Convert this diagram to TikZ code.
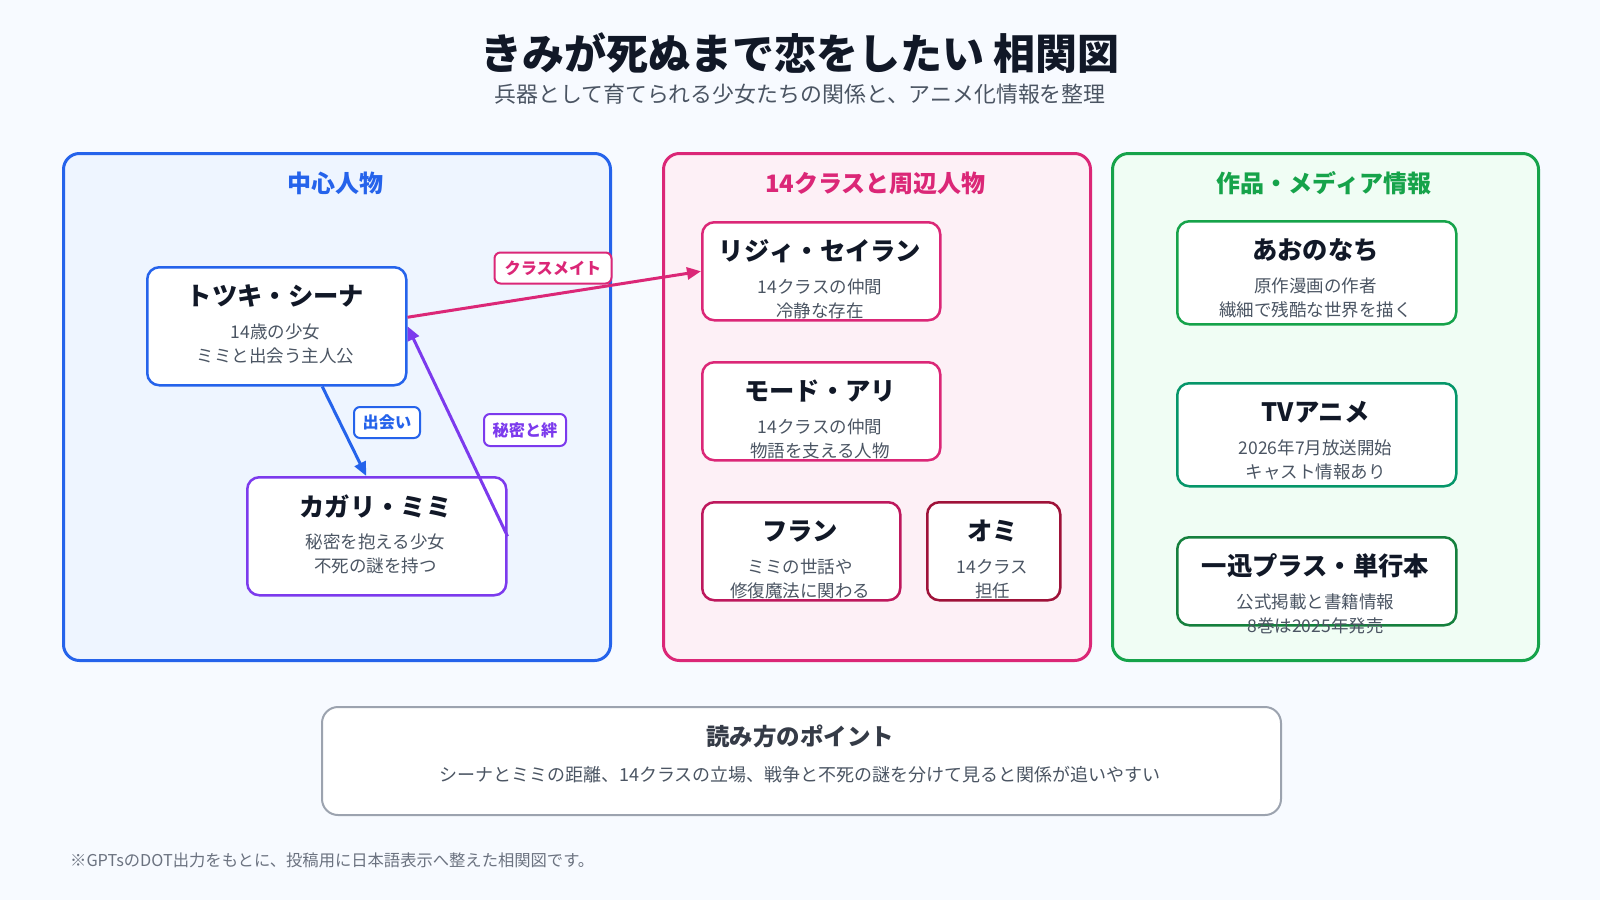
\documentclass[tikz,border=0pt]{standalone}
\usepackage{fontspec}
\setmainfont{Noto Sans CJK JP}
\usetikzlibrary{arrows.meta}
\definecolor{bgc}{HTML}{F7FAFF}
\definecolor{ink}{HTML}{111827}
\definecolor{subc}{HTML}{4B5563}
\definecolor{footc}{HTML}{6B7280}
\definecolor{cblue}{HTML}{2563EB}
\definecolor{fblue}{HTML}{EEF5FF}
\definecolor{cpink}{HTML}{DB2777}
\definecolor{fpink}{HTML}{FDF0F6}
\definecolor{cgreen}{HTML}{16A34A}
\definecolor{fgreen}{HTML}{F0FDF4}
\definecolor{cpurple}{HTML}{7C3AED}
\definecolor{cfran}{HTML}{BE185D}
\definecolor{comi}{HTML}{9F1239}
\definecolor{cteal}{HTML}{059669}
\definecolor{cdkgreen}{HTML}{15803D}
\definecolor{cgray}{HTML}{9CA3AF}
\newcommand\mycard[9]{%
  \node[card, draw=#6, minimum width=#4pt, minimum height=#5pt] (#1) at (#2,#3) {};
  \node[nm] (#1-t) at (#2+#4/2,#3+30) {#7};
  \node[subtxt] (#1-a) at (#2+#4/2,#3+66) {#8};
  \node[subtxt] (#1-b) at (#2+#4/2,#3+90) {#9};
}
\begin{document}
\begin{tikzpicture}[x=1pt,y=-1pt,
  grp/.style={draw, line width=3pt, rounded corners=16pt, inner sep=0pt, anchor=north west},
  grpt/.style={inner sep=0pt, font=\fontsize{24}{28}\selectfont\bfseries},
  card/.style={fill=white, line width=2.5pt, rounded corners=12pt, inner sep=0pt, anchor=north west},
  nm/.style={inner sep=0pt, text=ink, font=\fontsize{25.3}{30}\selectfont\bfseries},
  subtxt/.style={inner sep=0pt, text=subc, font=\fontsize{17.5}{21}\selectfont},
  tag/.style={draw, fill=white, line width=2pt, rounded corners=6pt, inner sep=0pt, font=\fontsize{16.2}{19}\selectfont\bfseries},
  arr/.style={line width=3pt, -{Triangle[length=14pt,width=12pt]}}
]
\useasboundingbox[fill=bgc] (0,0) rectangle (1600,900);

% title
\node[inner sep=0pt, text=ink, font=\fontsize{42}{48}\selectfont\bfseries] (title) at (800,53) {きみが死ぬまで恋をしたい 相関図};
\node[inner sep=0pt, text=subc, font=\fontsize{21.9}{26}\selectfont] (subtitle) at (800,94) {兵器として育てられる少女たちの関係と、アニメ化情報を整理};

% groups
\node[grp, draw=cblue, fill=fblue, minimum width=547pt, minimum height=507pt] (g1) at (62,152) {};
\node[grp, draw=cpink, fill=fpink, minimum width=427pt, minimum height=507pt] (g2) at (662,152) {};
\node[grp, draw=cgreen, fill=fgreen, minimum width=426pt, minimum height=507pt] (g3) at (1111,152) {};
\node[grpt, text=cblue] (g1t) at (335.5,183) {中心人物};
\node[grpt, text=cpink] (g2t) at (875.5,183) {14クラスと周辺人物};
\node[grpt, text=cgreen] (g3t) at (1324,183) {作品・メディア情報};

% cards
\mycard{toki}{146}{266}{259}{118}{cblue}{トツキ・シーナ}{14歳の少女}{ミミと出会う主人公}
\mycard{kagari}{246}{476}{259}{118}{cpurple}{カガリ・ミミ}{秘密を抱える少女}{不死の謎を持つ}
\mycard{rizi}{701}{221}{238}{98}{cpink}{リジィ・セイラン}{14クラスの仲間}{冷静な存在}
\mycard{mode}{701}{361}{238}{98}{cpink}{モード・アリ}{14クラスの仲間}{物語を支える人物}
\mycard{fran}{701}{501}{198}{98}{cfran}{フラン}{ミミの世話や}{修復魔法に関わる}
\mycard{omi}{926}{501}{133}{98}{comi}{オミ}{14クラス}{担任}
\mycard{aoi}{1176}{220}{279}{103}{cgreen}{あおのなち}{原作漫画の作者}{繊細で残酷な世界を描く}
\mycard{tv}{1176}{382}{279}{103}{cteal}{TVアニメ}{2026年7月放送開始}{キャスト情報あり}
\mycard{ichi}{1176}{536}{279}{88}{cdkgreen}{一迅プラス・単行本}{公式掲載と書籍情報}{8巻は2025年発売}

% connectors
\draw[arr, cpink] ([yshift=9pt]toki.east) -- (rizi.west);
\draw[arr, cblue] ([xshift=45.5pt]toki.south) -- ([xshift=-10.5pt]kagari.north);
\draw[arr, cpurple] (kagari.east) -- (toki.east);

% labels
\node[tag, draw=cpink, text=cpink, minimum width=117pt, minimum height=31pt] (l1) at (553,268) {クラスメイト};
\node[tag, draw=cblue, text=cblue, minimum width=66pt, minimum height=31pt] (l2) at (387,422.5) {出会い};
\node[tag, draw=cpurple, text=cpurple, minimum width=82pt, minimum height=32pt] (l3) at (525,430) {秘密と絆};

% bottom box
\node[card, draw=cgray, line width=2pt, rounded corners=16pt, minimum width=959pt, minimum height=108pt] (pt) at (321,706) {};
\node[inner sep=0pt, text=ink!85!white, font=\fontsize{23.5}{28}\selectfont\bfseries] (ptt) at (800,736) {読み方のポイント};
\node[inner sep=0pt, text=subc, font=\fontsize{18}{22}\selectfont] (ptx) at (800,775) {シーナとミミの距離、14クラスの立場、戦争と不死の謎を分けて見ると関係が追いやすい};

% footnote
\node[inner sep=0pt, anchor=west, text=footc, font=\fontsize{16.3}{19}\selectfont] (foot) at (70,860) {※GPTsのDOT出力をもとに、投稿用に日本語表示へ整えた相関図です。};
\end{tikzpicture}
\end{document}
